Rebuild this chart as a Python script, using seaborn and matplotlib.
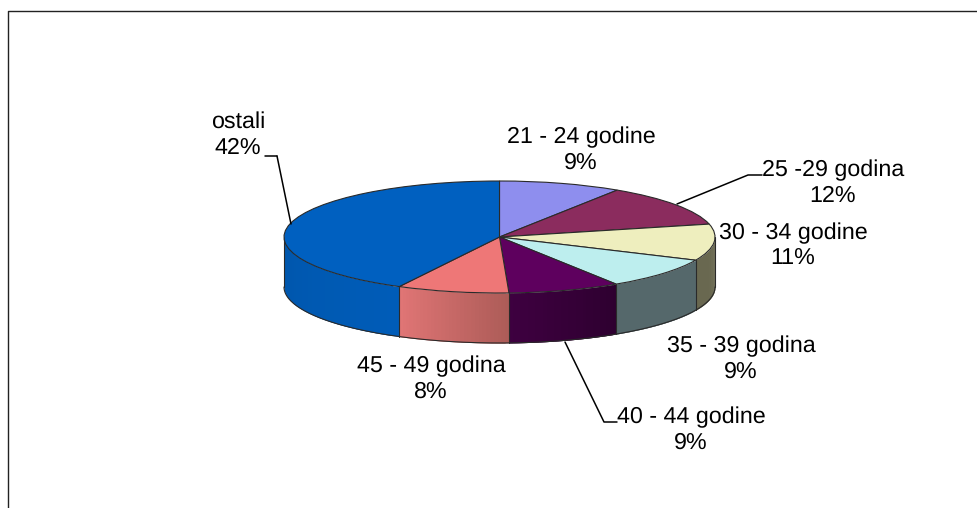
import matplotlib
matplotlib.use("Agg")
import matplotlib.pyplot as plt
import numpy as np
import seaborn as sns

# slices in clockwise order starting from the top
groups = ['21 - 24 godine', '25 -29 godina', '30 - 34 godine', '35 - 39 godina',
          '40 - 44 godine', '45 - 49 godina', 'ostali']
shares = [9.2, 12.1, 10.5, 9.1, 8.4, 8.4, 42.3]
percent_labels = ['9%', '12%', '11%', '9%', '9%', '8%', '42%']

top_colors = ['#8E8EEE', '#8B2C5E', '#EEEEBE', '#BDEEEE', '#5E005E', '#EE7777', '#0060C0']
wall_left = ['#7878c0', '#702448', '#696850', '#55686B', '#3E0040', '#E07575', '#0056AC']
wall_right = ['#7878c0', '#702448', '#696850', '#55686B', '#2E0030', '#AD5C58', '#005CB8']

sns.set_theme(style='white')
plt.rcParams['font.family'] = ['Liberation Sans', 'DejaVu Sans']
plt.rcParams['text.hinting'] = 'none'

W, H = 978, 508
CX, CY, RX, RY, DEPTH = 499.5, 237, 215.5, 56, 50


def to_ax(px, py):
    # pixel position in the image -> pie units
    return (np.asarray(px) - CX) / RX, (CY - np.asarray(py)) / RY


fig = plt.figure(figsize=(W / 100, H / 100), dpi=100)
ax = fig.add_axes([0, 0, 1, 1])

# top of the pie
ax.pie(shares, colors=top_colors, startangle=90, counterclock=False, radius=1,
       wedgeprops={'edgecolor': '#2a2a2a', 'linewidth': 0.8, 'zorder': 5})
ax.set_aspect('auto')
ax.set_xlim(to_ax(0, 0)[0], to_ax(W, 0)[0])
ax.set_ylim(to_ax(0, H)[1], to_ax(0, 0)[1])
ax.axis('off')

# side wall, only the front half is visible
d = DEPTH / RY
edges = np.radians(np.cumsum([0] + shares) * 3.6)
for i in range(len(shares)):
    a0, a1 = max(edges[i], np.pi / 2), min(edges[i + 1], 1.5 * np.pi)
    if a1 <= a0:
        continue
    steps = np.linspace(a0, a1, 31)
    c0 = np.array(matplotlib.colors.to_rgb(wall_right[i]))
    c1 = np.array(matplotlib.colors.to_rgb(wall_left[i]))
    for j in range(30):
        # each strip runs under the next one so no seams show
        seg = np.linspace(steps[j], steps[min(j + 2, 30)], 5)
        col = c0 + (c1 - c0) * j / 29
        ax.fill_between(np.sin(seg), np.cos(seg), np.cos(seg) - d, color=col, lw=0, zorder=2)
    if edges[i + 1] < 1.5 * np.pi:
        b = edges[i + 1]
        ax.plot([np.sin(b)] * 2, [np.cos(b), np.cos(b) - d], color='#2a2a2a', lw=0.8, zorder=3)

arc = np.linspace(np.pi / 2, 1.5 * np.pi, 200)
ax.plot(np.sin(arc), np.cos(arc) - d, color='#2a2a2a', lw=0.8, zorder=3)
ax.plot([1, 1], [0, -d], color='#2a2a2a', lw=0.8, zorder=3)
ax.plot([-1, -1], [0, -d], color='#2a2a2a', lw=0.8, zorder=3)

# labels: centre x, y of the group name (percent sits one line below)
label_pos = [(581, 137), (833, 170), (793, 233), (741, 346), (691, 417), (431, 366), (238, 122)]
for name, pct, (lx, ly) in zip(groups, percent_labels, label_pos):
    x0, y0 = to_ax(lx, ly)
    x1, y1 = to_ax(lx, ly + 26)
    ax.text(x0, y0, name, ha='center', va='center', fontsize=16.75, color='black', zorder=8)
    ax.text(x1, y1, pct, ha='center', va='center', fontsize=16.75, color='black', zorder=8)

# leader lines
for xs, ys in [([277, 265], [156, 156]), ([291, 277], [224, 156]),
               ([677, 748, 762], [204, 175, 175]),
               ([565, 604, 617], [342, 422, 422])]:
    lx, ly = to_ax(xs, ys)
    ax.plot(lx, ly, color='black', lw=1.1, zorder=7)

# frame of the chart area, only left and top fall inside the crop
fx, fy = to_ax([7.5, 7.5, W], [H, 10.5, 10.5])
ax.plot(fx, fy, color='#222222', lw=1.0, zorder=7)

fig.savefig('out.png', dpi=100)
